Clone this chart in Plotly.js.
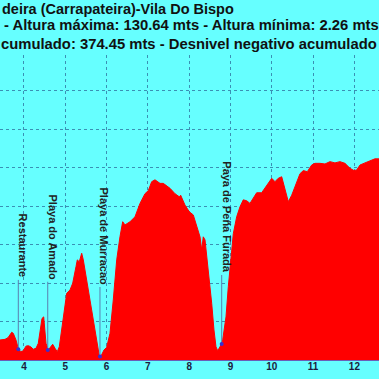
<!DOCTYPE html>
<html>
<head>
<meta charset="utf-8">
<script src="https://cdn.plot.ly/plotly-3.0.1.min.js"></script>
<style>
  html, body { margin: 0; padding: 0; background: #66ffff; overflow: hidden; }
  #chart { width: 379px; height: 379px; }
</style>
</head>
<body>
<div id="chart"></div>
<script>
// Distance along the route (km) and elevation (m)
const distKm = [3.419, 3.540, 3.613, 3.702, 3.741, 3.806, 3.862, 3.920, 3.983, 4.048, 4.104, 4.162, 4.225, 4.291,
  4.346, 4.387, 4.436, 4.477, 4.508, 4.533, 4.588, 4.646, 4.695, 4.751, 4.806, 4.855, 4.913, 4.993, 5.034, 5.114,
  5.179, 5.259, 5.291, 5.339, 5.397, 5.436, 5.518, 5.598, 5.678, 5.760, 5.823, 5.860, 5.937, 6.002, 6.082, 6.162,
  6.245, 6.324, 6.390, 6.446, 6.567, 6.688, 6.809, 6.930, 7.010, 7.092, 7.172, 7.293, 7.373, 7.535, 7.656, 7.760,
  7.794, 7.898, 8.002, 8.099, 8.181, 8.262, 8.303, 8.341, 8.383, 8.462, 8.545, 8.600, 8.649, 8.690, 8.746, 8.811,
  8.891, 8.947, 9.005, 9.068, 9.150, 9.230, 9.310, 9.392, 9.472, 9.552, 9.634, 9.755, 9.877, 9.998, 10.077, 10.157,
  10.240, 10.320, 10.400, 10.482, 10.603, 10.683, 10.763, 10.860, 10.966, 11.046, 11.167, 11.288, 11.409, 11.530,
  11.651, 11.772, 11.893, 11.990, 12.056, 12.136, 12.257, 12.378, 12.499, 12.596];
const elevM = [13, 13.4, 14.5, 18, 17.3, 13, 7.5, 5.4, 6, 9, 9.3, 8.6, 7, 7.6,
  10.8, 17.3, 27, 28, 20.6, 10.8, 6.5, 8.6, 10.2, 7.6, 5.4, 8.6, 19.5, 34.6, 43.3, 45.5,
  49.8, 60.6, 65, 63.8, 69.3, 65, 52, 39, 23.8, 10.8, 2.8, 2.26, 6.5, 8.2, 17.3, 39,
  65, 80, 89.8, 87.7, 89.8, 93, 101.7, 108, 110, 115.8, 117, 114.7, 114.7, 111.5, 108, 106,
  107, 100.6, 96.3, 94.2, 86.6, 80, 71.4, 80, 78, 58.4, 36.8, 19.5, 8.6, 6, 8.6, 13,
  28, 47.6, 65, 82, 93, 99.5, 104, 103.4, 101.7, 105, 108.6, 108.6, 113.6, 118, 115.8, 118,
  119, 110.4, 102.8, 107, 114.7, 121, 123, 122.3, 126.6, 127.7, 127.7, 127.3, 128.8, 128,
  128.8, 127.7, 124.5, 123, 123.4, 126.6, 128, 129.4, 130.64, 130.6];

// Waypoints
const waypointNames = ['Restaurante', 'Playa do Amado', 'Playa de Murracao', 'Paya de Peña Furada'];
const waypointKm = [3.862, 4.575, 5.84, 8.787];
const waypointElevM = [7, 6.5, 2.26, 10.4];
const labelFootM = [52, 50.8, 47.4, 55.2];

// Axis ticks
const xTickVals = [4, 5, 6, 7, 8, 9, 10, 11, 12];
const xTickText = ['4', '5', '6', '7', '8', '9', '10', '11', '12'];

// Title lines (as visible in the picture)
const titleLines = [
  'deira (Carrapateira)-Vila Do Bispo',
  '- Altura máxima: 130.64 mts - Altura mínima: 2.26 mts',
  'cumulado: 374.45 mts - Desnivel negativo acumulado'
];

const BG = '#66ffff';
const GRID = '#3a90b4';
const FONT = 'Liberation Sans, Arial, sans-serif';

const profile = {
  x: distKm, y: elevM, type: 'scatter', mode: 'lines',
  fill: 'tozeroy', fillcolor: '#ff0000',
  line: { color: '#ff0000', width: 1 },
  hoverinfo: 'skip', showlegend: false
};

const lx = [], ly = [];
waypointKm.forEach((k, i) => { lx.push(k, k, null); ly.push(waypointElevM[i], labelFootM[i], null); });
const leaders = {
  x: lx, y: ly, type: 'scatter', mode: 'lines',
  line: { color: '#5a7fb0', width: 1 }, hoverinfo: 'skip', showlegend: false
};
const dots = {
  x: waypointKm, y: waypointElevM, type: 'scatter', mode: 'markers',
  marker: { color: '#3a2fd0', size: 4 }, hoverinfo: 'skip', showlegend: false
};

const annotations = [];
waypointNames.forEach((n, i) => {
  annotations.push({
    x: waypointKm[i], y: labelFootM[i], xref: 'x', yref: 'y',
    text: n, textangle: 90, showarrow: false,
    xanchor: 'center', yanchor: 'bottom', xshift: 5, yshift: 0,
    font: { family: FONT, size: 11, weight: 'bold', color: '#222222' }
  });
});
const titleY = [1.1508, 1.0991, 1.0361];
const titleX = [0.0, 0.004, -0.003];
const titleSize = [14.5, 14.8, 14.8];
titleLines.forEach((t, i) => {
  annotations.push({
    x: titleX[i], y: titleY[i], xref: 'paper', yref: 'paper',
    text: t, showarrow: false, xanchor: 'left', yanchor: 'middle',
    font: { family: FONT, size: titleSize[i], weight: 'bold', color: '#111111' }
  });
});

const layout = {
  width: 379, height: 379,
  margin: { l: 0, r: 0, t: 55, b: 19, pad: 0 },
  paper_bgcolor: BG, plot_bgcolor: BG,
  showlegend: false,
  xaxis: {
    range: [3.419, 12.596], tickvals: xTickVals, ticktext: xTickText,
    showgrid: true, gridcolor: GRID, griddash: 'dot', gridwidth: 1,
    zeroline: false, showline: true, linecolor: '#6a5fb8', linewidth: 1,
    ticks: '', ticklen: 0, ticklabelstandoff: -3,
    tickfont: { family: FONT, size: 10, weight: 'bold', color: '#1c1c3c' },
    fixedrange: true
  },
  yaxis: {
    range: [0, 198.05], dtick: 25, tick0: 0,
    showgrid: true, gridcolor: GRID, griddash: 'dot', gridwidth: 1,
    zeroline: false, showline: false, showticklabels: false, ticks: '',
    fixedrange: true
  },
  annotations: annotations
};

Plotly.newPlot('chart', [profile, leaders, dots], layout, { displayModeBar: false, staticPlot: true });
</script>
</body>
</html>
